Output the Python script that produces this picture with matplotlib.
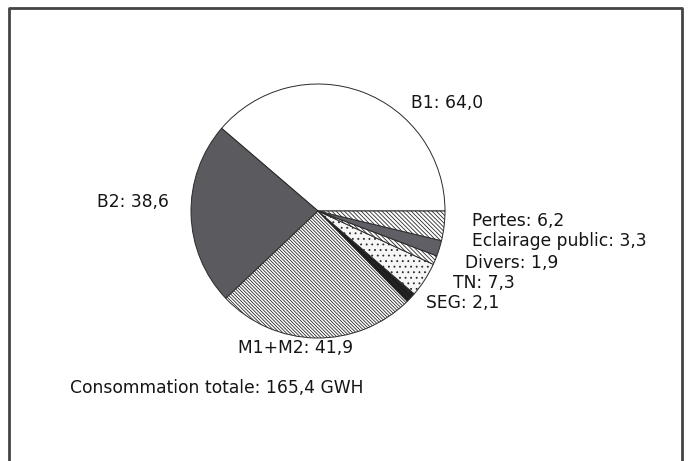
import matplotlib
matplotlib.use('Agg')
import matplotlib.pyplot as plt

plt.rcParams['font.family'] = ['DejaVu Sans']
plt.rcParams['hatch.linewidth'] = 0.6

# ── données ─────────────────────────────────────────────
labels = ['B1', 'B2', 'M1+M2', 'SEG', 'TN', 'Divers', 'Eclairage public', 'Pertes']
values = [64.0, 38.6, 41.9, 2.1, 7.3, 1.9, 3.3, 6.2]
value_txt = ['64,0', '38,6', '41,9', '2,1', '7,3', '1,9', '3,3', '6,2']
total_txt = 'Consommation totale: 165,4 GWH'

# remplissage de chaque secteur
faces = ['white', '#5a5a5f', 'white', '#1e1e1e', '#f6f6f6', 'white', '#5f5f65', 'white']
hatches = [None, None, '\\' * 10, '\\' * 6, '...', '\\' * 8, None, '\\' * 8]

# positions des étiquettes (pixels, origine en haut à gauche)
label_pos = [(411, 103), (97, 202), (238, 348), (426, 303),
             (453, 283), (465, 263), (472, 241), (472, 221)]

W, H = 688, 461
fig = plt.figure(figsize=(W / 100, H / 100), dpi=100)
ax = fig.add_axes([0, 0, 1, 1])

wedges, _ = ax.pie(values, startangle=0, counterclock=True,
                   center=(318, H - 211), radius=127,
                   colors=faces,
                   wedgeprops=dict(edgecolor='#2a2a2a', linewidth=0.7),
                   frame=True)
for w, h in zip(wedges, hatches):
    if h:
        w.set_hatch(h)
ax.set_xlim(0, W)
ax.set_ylim(0, H)
ax.set_aspect('equal')
ax.axis('off')

for lab, v, (px, py) in zip(labels, value_txt, label_pos):
    ax.text(px, H - py, f'{lab}: {v}', fontsize=12.3, ha='left', va='center',
            color='#151515')

ax.text(70, H - 388, total_txt, fontsize=12.3, ha='left', va='center', color='#151515')

# cadre
ax.plot([9, 9, 682, 682], [-5, H - 8, H - 8, -5], color='#444444', linewidth=2)

fig.savefig('out.png', dpi=100)
